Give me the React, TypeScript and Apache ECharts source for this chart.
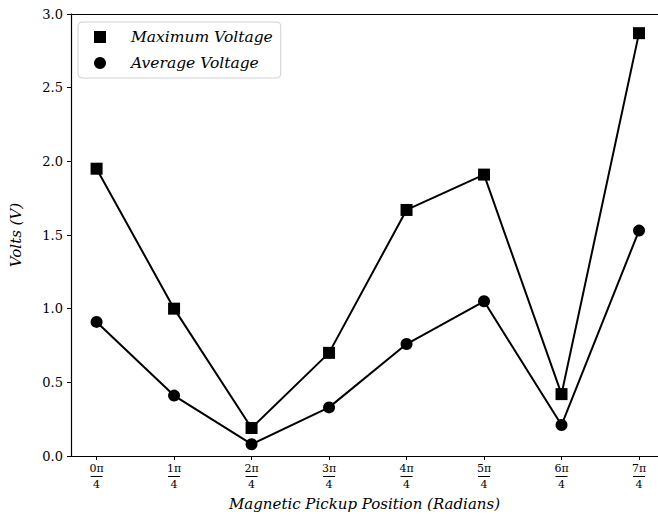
import React, { useEffect, useRef } from "react";
import * as echarts from "echarts";

// Pickup positions (multiples of π/4) and the voltages measured at each.
const positions = [0, 1, 2, 3, 4, 5, 6, 7];
const numerators = ["0π", "1π", "2π", "3π", "4π", "5π", "6π", "7π"];
const maxVoltage = [1.95, 1.0, 0.19, 0.7, 1.67, 1.91, 0.42, 2.87];
const avgVoltage = [0.91, 0.41, 0.08, 0.33, 0.76, 1.05, 0.21, 1.53];
const yTicks = [0, 0.5, 1.0, 1.5, 2.0, 2.5, 3.0];

const SERIF = "'DejaVu Serif', serif";
const X_MIN = -0.33;
const X_MAX = 7.245;

export default function App() {
  const ref = useRef<HTMLDivElement>(null);

  useEffect(() => {
    if (!ref.current) return;
    const chart = echarts.init(ref.current, undefined, { renderer: "svg" });

    const pairs = (vals: number[]) => positions.map((p, i) => [p, vals[i]]);

    chart.setOption({
      animation: false,
      backgroundColor: "#fff",
      grid: {
        left: 71,
        top: 14,
        right: 0,
        height: 445,
        show: false,
        containLabel: false,
      },
      legend: {
        orient: "vertical",
        left: 78,
        top: 22,
        padding: [7, 8, 7, 16],
        itemGap: 10,
        itemWidth: 12,
        itemHeight: 12,
        borderColor: "#d0d0d0",
        borderWidth: 1,
        borderRadius: 4,
        backgroundColor: "#fff",
        data: [
          { name: "Maximum Voltage", icon: "rect" },
          { name: "Average Voltage", icon: "circle" },
        ],
        textStyle: {
          fontFamily: SERIF,
          fontStyle: "italic",
          fontSize: 15.5,
          lineHeight: 14,
          color: "#000",
          padding: [0, 0, 0, 20],
        },
      },
      xAxis: [
        {
          type: "value",
          min: X_MIN,
          max: X_MAX,
          name: "Magnetic Pickup Position (Radians)",
          nameLocation: "middle",
          nameGap: 40,
          nameTextStyle: {
            fontFamily: SERIF,
            fontStyle: "italic",
            fontSize: 15,
            color: "#000",
          },
          axisLine: { show: true, onZero: false, lineStyle: { color: "#000", width: 1.2 } },
          axisTick: {
            show: true,
            length: 4,
            customValues: positions,
            lineStyle: { color: "#000", width: 1 },
          },
          splitLine: { show: false },
          axisLabel: {
            customValues: positions,
            margin: 5,
            formatter: (v: number) => {
              const i = Math.round(v);
              return `{n|${numerators[i]}}\n{l| }\n{d|4}`;
            },
            rich: {
              n: { fontFamily: SERIF, fontSize: 11, color: "#000", lineHeight: 14, align: "center" },
              l: {
                width: 12,
                height: 1,
                lineHeight: 3,
                fontSize: 1,
                backgroundColor: "#000",
                align: "center",
              },
              d: { fontFamily: SERIF, fontSize: 11, color: "#000", lineHeight: 13, align: "center" },
            },
          },
        },
        {
          // top frame line
          type: "value",
          position: "top",
          min: X_MIN,
          max: X_MAX,
          axisLine: { show: true, onZero: false, lineStyle: { color: "#000", width: 1.2 } },
          axisTick: { show: false },
          axisLabel: { show: false },
          splitLine: { show: false },
        },
      ],
      yAxis: {
        type: "value",
        min: 0,
        max: 3,
        interval: 0.5,
        name: "Volts (V)",
        nameLocation: "middle",
        nameGap: 48,
        nameTextStyle: {
          fontFamily: SERIF,
          fontStyle: "italic",
          fontSize: 15,
          color: "#000",
        },
        axisLine: { show: true, onZero: false, lineStyle: { color: "#000", width: 1.2 } },
        axisTick: { show: true, length: 4, inside: false, lineStyle: { color: "#000" } },
        splitLine: { show: false },
        axisLabel: {
          margin: 8,
          fontFamily: SERIF,
          fontSize: 13,
          color: "#000",
          formatter: (v: number) => (yTicks.includes(v) ? v.toFixed(1) : ""),
        },
      },
      series: [
        {
          name: "Maximum Voltage",
          type: "line",
          data: pairs(maxVoltage),
          symbol: "rect",
          symbolSize: 12,
          lineStyle: { color: "#000", width: 2 },
          itemStyle: { color: "#000" },
        },
        {
          name: "Average Voltage",
          type: "line",
          data: pairs(avgVoltage),
          symbol: "circle",
          symbolSize: 12,
          lineStyle: { color: "#000", width: 2 },
          itemStyle: { color: "#000" },
        },
      ],
    });

    return () => chart.dispose();
  }, []);

  return (
    <div
      ref={ref}
      style={{ position: "fixed", left: 0, top: 0, width: 658, height: 516 }}
    />
  );
}
